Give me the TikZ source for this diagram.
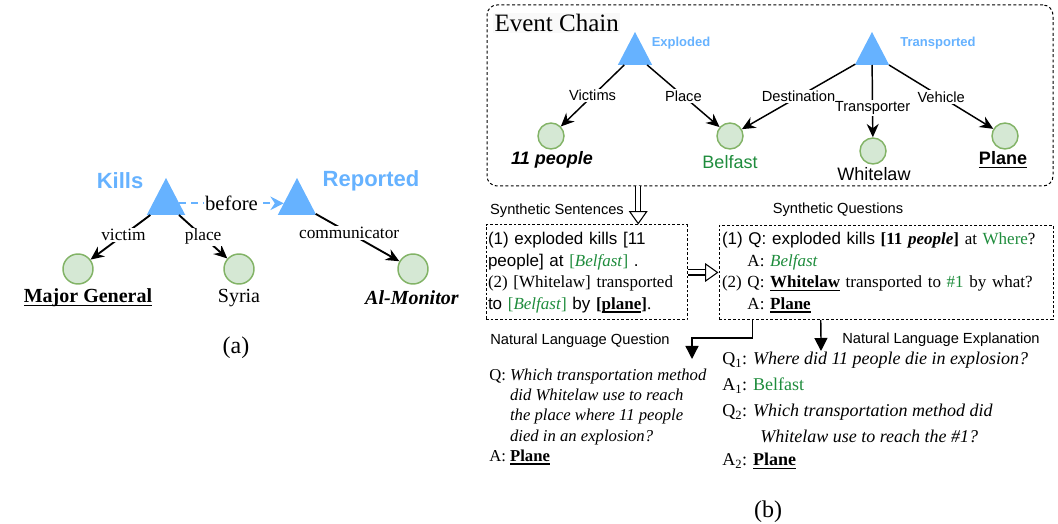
\documentclass[tikz,border=0pt]{standalone}
\usepackage{fontspec}
\setmainfont{Liberation Serif}
\setsansfont{Liberation Sans}
\usetikzlibrary{arrows.meta, shapes.geometric, calc}

\newsavebox{\ulbox}
\newcommand{\uln}[1]{\sbox{\ulbox}{#1}\leavevmode\rlap{\rule[-2.6pt]{\wd\ulbox}{1.1pt}}\usebox{\ulbox}}

\definecolor{evblue}{RGB}{102,178,255}
\definecolor{entfill}{RGB}{213,232,212}
\definecolor{entdraw}{RGB}{130,179,102}
\definecolor{ansgreen}{RGB}{30,140,60}

\begin{document}
\begin{tikzpicture}[
    x=0.75pt, y=-0.75pt,
    evt/.style={isosceles triangle, shape border rotate=90, isosceles triangle apex angle=55,
        fill=evblue, draw=none, inner sep=0pt, outer sep=0pt, anchor=apex},
    ent/.style={circle, draw=entdraw, fill=entfill, line width=1.1pt, inner sep=0pt},
    rel/.style={-{Stealth[length=10pt,width=9pt]}, line width=1.1pt},
    rellab/.style={fill=white, inner sep=1pt},
    textbox/.style={draw, dash pattern=on 2pt off 1.5pt, line width=0.75pt, align=left,
        inner ysep=0pt, font=\fontsize{12.75}{16.1}\selectfont},
    hollow/.style={double, double distance=3pt, line width=0.8pt, -{Triangle[open, length=10pt, width=14pt]}},
    down/.style={-{Triangle[length=9.75pt,width=9.75pt]}, line width=1pt},
    steplab/.style={font=\sffamily\fontsize{11}{13}\selectfont}
]
    \useasboundingbox (0,0) rectangle (1058,524);

    % (a) Kills / Reported
    \node[evt, minimum width=27.75pt, minimum height=27.75pt] (kills) at (166,178) {};
    \node[evt, minimum width=27.75pt, minimum height=27.75pt] (reported) at (297,178) {};
    \node[text=evblue, font=\sffamily\bfseries\fontsize{16.5}{19}\selectfont] (killsT) at (120,181) {Kills};
    \node[text=evblue, font=\sffamily\bfseries\fontsize{16.5}{19}\selectfont] (reportedT) at (371,181) {Reported};

    \node[ent, minimum size=22.5pt] (general) at (78,269) {};
    \node[ent, minimum size=22.5pt] (syria) at (239,269) {};
    \node[ent, minimum size=22.5pt] (monitor) at (413,269) {};
    \node[font=\fontsize{15}{17}\selectfont] (generalT) at (88,298) {\textbf{\uln{Major General}}};
    \node[font=\fontsize{15}{17}\selectfont] (syriaT) at (239,298) {Syria};
    \node[font=\fontsize{15}{17}\selectfont] (monitorT) at (412,298) {\textbf{\textit{Al-Monitor}}};

    \draw[evblue, dash pattern=on 5pt off 4pt, line width=1.6pt, -{Stealth[length=10pt,width=10pt]}]
        (kills) -- node[rellab, text=black, font=\fontsize{15.5}{17}\selectfont] (beforeT) {before} (reported);
    \begin{scope}[every node/.append style={font=\fontsize{13}{15}\selectfont}, rel/.append style={line width=1.4pt}]
        \draw[rel] (kills) -- node[rellab, pos=0.45] (victimT) {victim} (general);
        \draw[rel] (kills) -- node[rellab] (placeT) {place} (syria);
        \draw[rel] (reported) -- node[rellab, pos=0.4] (commT) {communicator} (monitor);
    \end{scope}

    \node[font=\fontsize{18}{20}\selectfont] (capA) at (236,348) {(a)};

    % (b) Event Chain
    \node[draw, dash pattern=on 2.2pt off 1.8pt, line width=0.75pt, rounded corners=7.5pt,
        minimum width=424.5pt, minimum height=135.75pt] (chain) at (770,95.5) {};
    \node[anchor=west, fill=gray!5, inner sep=1pt, font=\fontsize{18.75}{21}\selectfont] (chainT) at (493,23) {Event Chain};

    \node[evt, minimum width=24.75pt, minimum height=24.75pt] (exploded) at (635,32) {};
    \node[evt, minimum width=24.75pt, minimum height=24.75pt] (transported) at (872,32) {};
    \node[text=evblue, font=\sffamily\bfseries\fontsize{9.75}{11}\selectfont] (explodedT) at (681,43) {Exploded};
    \node[text=evblue, font=\sffamily\bfseries\fontsize{9.75}{11}\selectfont] (transportedT) at (938,43) {Transported};

    \node[ent, minimum size=19.5pt] (people) at (551,136) {};
    \node[ent, minimum size=19.5pt] (belfast) at (730,136) {};
    \node[ent, minimum size=19.5pt] (whitelaw) at (873,151) {};
    \node[ent, minimum size=19.5pt] (plane) at (1005,136) {};
    \begin{scope}[every node/.append style={font=\sffamily\fontsize{13.5}{16}\selectfont}]
        \node (peopleT) at (552,160) {\textbf{\textit{11 people}}};
        \node[text=ansgreen] (belfastT) at (730,162) {Belfast};
        \node (whitelawT) at (874,174) {Whitelaw};
        \node (planeT) at (1003,160) {\textbf{\uln{Plane}}};
    \end{scope}

    \begin{scope}[every node/.append style={font=\sffamily\fontsize{11}{13}\selectfont}]
        \draw[rel] (exploded) -- node[rellab] (victimsT) {Victims} (people);
        \draw[rel] (exploded) -- node[rellab] (placeT2) {Place} (belfast);
        \draw[rel] (transported) -- node[rellab] (destT) {Destination} (belfast);
        \draw[rel] (transported) -- node[rellab, pos=0.6] (transpT) {Transporter} (whitelaw);
        \draw[rel] (transported) -- node[rellab] (vehicleT) {Vehicle} (plane);
    \end{scope}

    % (b) synthetic sentences and questions
    \node[steplab] (sentL) at (557,211) {Synthetic Sentences};
    \node[steplab] (quesL) at (838,210) {Synthetic Questions};
    \node[textbox, inner xsep=1.5pt, text width=147.75pt, minimum height=71.25pt] (sent) at (586.5,272.5) {%
        {\sffamily (1) exploded kills [11}\\
        {\sffamily people] at} \textcolor{ansgreen}{[\textit{Belfast}]} {\sffamily .}\\
        (2) [Whitelaw] transported\\
        {\sffamily to} \textcolor{ansgreen}{[\textit{Belfast}]} {\sffamily by} \textbf{[\uln{plane}]}.};
    \node[textbox, inner xsep=2.25pt, text width=246pt, minimum height=70.5pt] (ques) at (886,272.5) {%
        {\sffamily (1) Q: exploded kills} \textbf{[11 \textit{people}]} at \textcolor{ansgreen}{Where}?\\
        \hphantom{(1) }A: \textcolor{ansgreen}{\textit{Belfast}}\\
        (2) Q: \textbf{\uln{Whitelaw}} transported to \textcolor{ansgreen}{\#1} by what?\\
        \hphantom{(1) }A: \textbf{\uln{Plane}}};

    \coordinate (sentIn) at ($(sent.north west)!0.756!(sent.north east)$);
    \draw[hollow] (chain.south -| sentIn) -- (sentIn);
    \draw[hollow] (sent.east) -- (ques.west);

    % natural language question / explanation
    \coordinate (quesA) at ($(ques.south west)!0.1018!(ques.south east)$);
    \coordinate (quesB) at ($(ques.south west)!0.3054!(ques.south east)$);
    \coordinate (nlqIn) at (692,359);
    \coordinate (nleIn) at (821,351);
    \draw[down] (quesA) -- ++(0,18) -| (nlqIn);
    \draw[down] (quesB) -- (nleIn);

    \node[steplab] (nlqL) at (580,341) {Natural Language Question};
    \node[steplab] (nleL) at (941,340) {Natural Language Explanation};

    \node[anchor=north west, inner sep=0pt, align=left, font=\fontsize{12.5}{15.2}\selectfont] (nlq) at (489,368.5) {%
        Q: \textit{Which transportation method}\\
        \hphantom{Q: }\textit{did Whitelaw use to reach}\\
        \hphantom{Q: }\textit{the place where 11 people}\\
        \hphantom{Q: }\textit{died in an explosion?}\\
        A: \textbf{\uln{Plane}}};
    \node[anchor=north west, inner sep=0pt, align=left, font=\fontsize{13.5}{19.5}\selectfont] (nle) at (722,352) {%
        Q\textsubscript{1}: \textit{Where did 11 people die in explosion?}\\
        A\textsubscript{1}: \textcolor{ansgreen}{Belfast}\\
        Q\textsubscript{2}: \textit{Which transportation method did}\\
        \hspace{28.5pt}\textit{Whitelaw use to reach the \#1?}\\[-2.25pt]
        A\textsubscript{2}: \textbf{\uln{Plane}}};

    \node[font=\fontsize{18}{20}\selectfont] (capB) at (768,512) {(b)};
\end{tikzpicture}
\end{document}
